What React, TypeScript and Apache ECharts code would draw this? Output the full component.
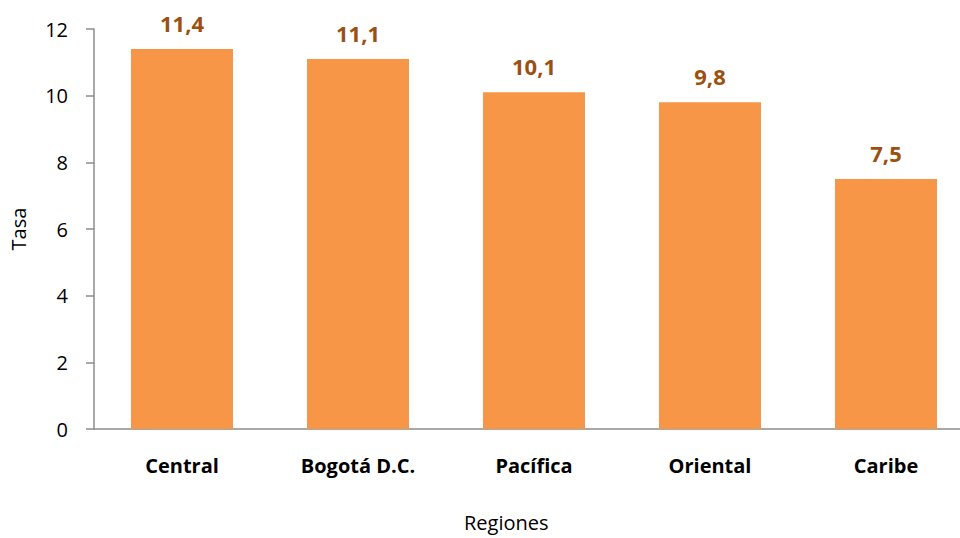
import React, { useEffect, useRef } from "react";
import * as echarts from "echarts";

const categories = ["Central", "Bogotá D.C.", "Pacífica", "Oriental", "Caribe"];
const values = [11.4, 11.1, 10.1, 9.8, 7.5];
const yTicks = [0, 2, 4, 6, 8, 10, 12];

const FONT = "'Open Sans', sans-serif";

export default function App() {
  const ref = useRef<HTMLDivElement>(null);
  useEffect(() => {
    if (!ref.current) return;
    const chart = echarts.init(ref.current, undefined, { renderer: "svg" });
    chart.setOption({
      animation: false,
      backgroundColor: "#ffffff",
      grid: { left: 94, top: 29, right: 0, bottom: 109, containLabel: false },
      graphic: [
        {
          type: "text",
          left: 464,
          top: 512,
          style: { text: "Regiones", fontFamily: FONT, fontSize: 20, fill: "#000" },
        },
      ],
      xAxis: {
        type: "category",
        data: categories,
        axisLine: { lineStyle: { color: "#8c8c8c", width: 1.5 } },
        axisTick: { show: false },
        axisLabel: { fontFamily: FONT, fontSize: 20, fontWeight: "bold", color: "#000", margin: 26 },
      },
      yAxis: {
        type: "value",
        min: yTicks[0],
        max: yTicks[yTicks.length - 1],
        interval: 2,
        name: "Tasa",
        nameLocation: "middle",
        nameGap: 66,
        nameTextStyle: { fontFamily: FONT, fontSize: 20, color: "#000" },
        axisLine: { show: true, lineStyle: { color: "#8c8c8c", width: 1.5 } },
        axisTick: { show: true, length: 8, lineStyle: { color: "#8c8c8c", width: 1.5 } },
        splitLine: { show: false },
        axisLabel: { fontFamily: FONT, fontSize: 20, color: "#000", margin: 26 },
      },
      series: [
        {
          type: "bar",
          data: values,
          barWidth: 102,
          itemStyle: { color: "#F79646" },
          label: {
            show: true,
            position: "top",
            distance: 15,
            fontFamily: FONT,
            fontSize: 22,
            fontWeight: "bold",
            color: "#9C5010",
            formatter: (p: any) => String(p.value).replace(".", ","),
          },
        },
      ],
    });
    return () => chart.dispose();
  }, []);
  return (
    <div style={{ position: "fixed", left: 0, top: 0, width: 960, height: 538, overflow: "hidden" }}>
      <div ref={ref} style={{ position: "absolute", left: 0, top: 0, width: 974, height: 538 }} />
    </div>
  );
}
